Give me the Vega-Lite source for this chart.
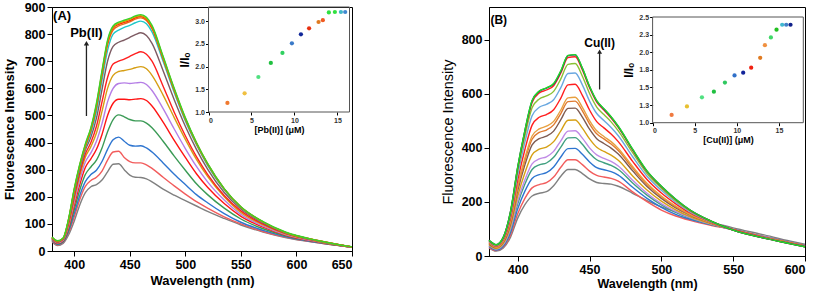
{
"$schema": "https://vega.github.io/schema/vega-lite/v6.json",
"padding": {"left": 2, "top": 0, "right": 0, "bottom": 0},
"background": "white",
"config": {
  "view": {"stroke": "black", "strokeWidth": 1},
  "font": "Liberation Sans",
  "axis": {"grid": false, "labelOverlap": false, "domainColor": "black", "tickColor": "black", "labelColor": "black", "titleColor": "black", "labelFont": "Liberation Sans", "titleFont": "Liberation Sans", "labelFontWeight": "bold", "titleFontWeight": "bold"}
},
"datasets": {
"a": [
{"c":"a01","w":380,"v":35},{"c":"a01","w":385,"v":20},{"c":"a01","w":390,"v":28},{"c":"a01","w":395,"v":60},{"c":"a01","w":400,"v":110},{"c":"a01","w":405,"v":170},{"c":"a01","w":410,"v":215},{"c":"a01","w":415,"v":237},{"c":"a01","w":420,"v":245},{"c":"a01","w":425,"v":262},{"c":"a01","w":430,"v":292},{"c":"a01","w":435,"v":320},{"c":"a01","w":440,"v":322},{"c":"a01","w":445,"v":300},{"c":"a01","w":450,"v":280},{"c":"a01","w":455,"v":272},{"c":"a01","w":460,"v":271},{"c":"a01","w":465,"v":266},{"c":"a01","w":470,"v":255},{"c":"a01","w":480,"v":228},{"c":"a01","w":490,"v":206},{"c":"a01","w":500,"v":186},{"c":"a01","w":510,"v":166},{"c":"a01","w":520,"v":146},{"c":"a01","w":535,"v":120},{"c":"a01","w":550,"v":96},{"c":"a01","w":570,"v":70},{"c":"a01","w":590,"v":50},{"c":"a01","w":620,"v":30},{"c":"a01","w":650,"v":14},
{"c":"a02","w":380,"v":38},{"c":"a02","w":385,"v":22},{"c":"a02","w":390,"v":31},{"c":"a02","w":395,"v":68},{"c":"a02","w":400,"v":125},{"c":"a02","w":405,"v":190},{"c":"a02","w":410,"v":238},{"c":"a02","w":415,"v":260},{"c":"a02","w":420,"v":272},{"c":"a02","w":425,"v":295},{"c":"a02","w":430,"v":335},{"c":"a02","w":435,"v":365},{"c":"a02","w":440,"v":368},{"c":"a02","w":445,"v":345},{"c":"a02","w":450,"v":330},{"c":"a02","w":455,"v":325},{"c":"a02","w":460,"v":325},{"c":"a02","w":465,"v":318},{"c":"a02","w":470,"v":305},{"c":"a02","w":480,"v":272},{"c":"a02","w":490,"v":240},{"c":"a02","w":500,"v":210},{"c":"a02","w":510,"v":182},{"c":"a02","w":520,"v":158},{"c":"a02","w":535,"v":126},{"c":"a02","w":550,"v":100},{"c":"a02","w":570,"v":72},{"c":"a02","w":590,"v":51},{"c":"a02","w":620,"v":30},{"c":"a02","w":650,"v":14},
{"c":"a03","w":380,"v":40},{"c":"a03","w":385,"v":24},{"c":"a03","w":390,"v":33},{"c":"a03","w":395,"v":74},{"c":"a03","w":400,"v":138},{"c":"a03","w":405,"v":205},{"c":"a03","w":410,"v":256},{"c":"a03","w":415,"v":282},{"c":"a03","w":420,"v":298},{"c":"a03","w":425,"v":330},{"c":"a03","w":430,"v":375},{"c":"a03","w":435,"v":410},{"c":"a03","w":440,"v":420},{"c":"a03","w":445,"v":405},{"c":"a03","w":450,"v":390},{"c":"a03","w":455,"v":387},{"c":"a03","w":460,"v":388},{"c":"a03","w":465,"v":380},{"c":"a03","w":470,"v":365},{"c":"a03","w":480,"v":325},{"c":"a03","w":490,"v":283},{"c":"a03","w":500,"v":245},{"c":"a03","w":510,"v":208},{"c":"a03","w":520,"v":178},{"c":"a03","w":535,"v":138},{"c":"a03","w":550,"v":106},{"c":"a03","w":570,"v":76},{"c":"a03","w":590,"v":53},{"c":"a03","w":620,"v":31},{"c":"a03","w":650,"v":14},
{"c":"a04","w":380,"v":42},{"c":"a04","w":385,"v":26},{"c":"a04","w":390,"v":35},{"c":"a04","w":395,"v":80},{"c":"a04","w":400,"v":152},{"c":"a04","w":405,"v":225},{"c":"a04","w":410,"v":282},{"c":"a04","w":415,"v":310},{"c":"a04","w":420,"v":335},{"c":"a04","w":425,"v":380},{"c":"a04","w":430,"v":440},{"c":"a04","w":435,"v":485},{"c":"a04","w":440,"v":502},{"c":"a04","w":445,"v":495},{"c":"a04","w":450,"v":485},{"c":"a04","w":455,"v":480},{"c":"a04","w":460,"v":480},{"c":"a04","w":465,"v":472},{"c":"a04","w":470,"v":455},{"c":"a04","w":480,"v":405},{"c":"a04","w":490,"v":350},{"c":"a04","w":500,"v":298},{"c":"a04","w":510,"v":248},{"c":"a04","w":520,"v":208},{"c":"a04","w":535,"v":158},{"c":"a04","w":550,"v":118},{"c":"a04","w":570,"v":82},{"c":"a04","w":590,"v":56},{"c":"a04","w":620,"v":32},{"c":"a04","w":650,"v":14},
{"c":"a05","w":380,"v":44},{"c":"a05","w":385,"v":28},{"c":"a05","w":390,"v":38},{"c":"a05","w":395,"v":88},{"c":"a05","w":400,"v":168},{"c":"a05","w":405,"v":245},{"c":"a05","w":410,"v":308},{"c":"a05","w":415,"v":340},{"c":"a05","w":420,"v":375},{"c":"a05","w":425,"v":430},{"c":"a05","w":430,"v":500},{"c":"a05","w":435,"v":545},{"c":"a05","w":440,"v":560},{"c":"a05","w":445,"v":560},{"c":"a05","w":450,"v":558},{"c":"a05","w":455,"v":560},{"c":"a05","w":460,"v":562},{"c":"a05","w":465,"v":555},{"c":"a05","w":470,"v":535},{"c":"a05","w":480,"v":475},{"c":"a05","w":490,"v":408},{"c":"a05","w":500,"v":345},{"c":"a05","w":510,"v":285},{"c":"a05","w":520,"v":235},{"c":"a05","w":535,"v":175},{"c":"a05","w":550,"v":128},{"c":"a05","w":570,"v":88},{"c":"a05","w":590,"v":59},{"c":"a05","w":620,"v":33},{"c":"a05","w":650,"v":14},
{"c":"a06","w":380,"v":45},{"c":"a06","w":385,"v":30},{"c":"a06","w":390,"v":40},{"c":"a06","w":395,"v":94},{"c":"a06","w":400,"v":180},{"c":"a06","w":405,"v":262},{"c":"a06","w":410,"v":328},{"c":"a06","w":415,"v":362},{"c":"a06","w":420,"v":405},{"c":"a06","w":425,"v":470},{"c":"a06","w":430,"v":550},{"c":"a06","w":435,"v":600},{"c":"a06","w":440,"v":618},{"c":"a06","w":445,"v":620},{"c":"a06","w":450,"v":618},{"c":"a06","w":455,"v":620},{"c":"a06","w":460,"v":622},{"c":"a06","w":465,"v":614},{"c":"a06","w":470,"v":592},{"c":"a06","w":480,"v":525},{"c":"a06","w":490,"v":450},{"c":"a06","w":500,"v":378},{"c":"a06","w":510,"v":312},{"c":"a06","w":520,"v":255},{"c":"a06","w":535,"v":188},{"c":"a06","w":550,"v":135},{"c":"a06","w":570,"v":92},{"c":"a06","w":590,"v":61},{"c":"a06","w":620,"v":34},{"c":"a06","w":650,"v":15},
{"c":"a07","w":380,"v":46},{"c":"a07","w":385,"v":32},{"c":"a07","w":390,"v":42},{"c":"a07","w":395,"v":100},{"c":"a07","w":400,"v":192},{"c":"a07","w":405,"v":278},{"c":"a07","w":410,"v":346},{"c":"a07","w":415,"v":385},{"c":"a07","w":420,"v":435},{"c":"a07","w":425,"v":515},{"c":"a07","w":430,"v":600},{"c":"a07","w":435,"v":648},{"c":"a07","w":440,"v":662},{"c":"a07","w":445,"v":666},{"c":"a07","w":450,"v":670},{"c":"a07","w":455,"v":676},{"c":"a07","w":460,"v":680},{"c":"a07","w":465,"v":672},{"c":"a07","w":470,"v":648},{"c":"a07","w":480,"v":575},{"c":"a07","w":490,"v":492},{"c":"a07","w":500,"v":412},{"c":"a07","w":510,"v":338},{"c":"a07","w":520,"v":275},{"c":"a07","w":535,"v":200},{"c":"a07","w":550,"v":142},{"c":"a07","w":570,"v":96},{"c":"a07","w":590,"v":63},{"c":"a07","w":620,"v":35},{"c":"a07","w":650,"v":15},
{"c":"a08","w":380,"v":47},{"c":"a08","w":385,"v":33},{"c":"a08","w":390,"v":43},{"c":"a08","w":395,"v":104},{"c":"a08","w":400,"v":200},{"c":"a08","w":405,"v":288},{"c":"a08","w":410,"v":358},{"c":"a08","w":415,"v":400},{"c":"a08","w":420,"v":460},{"c":"a08","w":425,"v":550},{"c":"a08","w":430,"v":640},{"c":"a08","w":435,"v":690},{"c":"a08","w":440,"v":700},{"c":"a08","w":445,"v":708},{"c":"a08","w":450,"v":718},{"c":"a08","w":455,"v":728},{"c":"a08","w":460,"v":735},{"c":"a08","w":465,"v":726},{"c":"a08","w":470,"v":700},{"c":"a08","w":480,"v":608},{"c":"a08","w":490,"v":512},{"c":"a08","w":500,"v":425},{"c":"a08","w":510,"v":348},{"c":"a08","w":520,"v":283},{"c":"a08","w":535,"v":205},{"c":"a08","w":550,"v":148},{"c":"a08","w":570,"v":99},{"c":"a08","w":590,"v":65},{"c":"a08","w":620,"v":36},{"c":"a08","w":650,"v":15},
{"c":"a09","w":380,"v":48},{"c":"a09","w":385,"v":34},{"c":"a09","w":390,"v":44},{"c":"a09","w":395,"v":110},{"c":"a09","w":400,"v":210},{"c":"a09","w":405,"v":300},{"c":"a09","w":410,"v":372},{"c":"a09","w":415,"v":420},{"c":"a09","w":420,"v":490},{"c":"a09","w":425,"v":595},{"c":"a09","w":430,"v":700},{"c":"a09","w":435,"v":755},{"c":"a09","w":440,"v":770},{"c":"a09","w":445,"v":778},{"c":"a09","w":450,"v":788},{"c":"a09","w":455,"v":798},{"c":"a09","w":460,"v":805},{"c":"a09","w":465,"v":795},{"c":"a09","w":470,"v":766},{"c":"a09","w":480,"v":665},{"c":"a09","w":490,"v":558},{"c":"a09","w":500,"v":460},{"c":"a09","w":510,"v":375},{"c":"a09","w":520,"v":302},{"c":"a09","w":535,"v":216},{"c":"a09","w":550,"v":155},{"c":"a09","w":570,"v":103},{"c":"a09","w":590,"v":67},{"c":"a09","w":620,"v":37},{"c":"a09","w":650,"v":15},
{"c":"a10","w":380,"v":49},{"c":"a10","w":385,"v":35},{"c":"a10","w":390,"v":45},{"c":"a10","w":395,"v":114},{"c":"a10","w":400,"v":218},{"c":"a10","w":405,"v":308},{"c":"a10","w":410,"v":380},{"c":"a10","w":415,"v":435},{"c":"a10","w":420,"v":515},{"c":"a10","w":425,"v":630},{"c":"a10","w":430,"v":740},{"c":"a10","w":435,"v":800},{"c":"a10","w":440,"v":815},{"c":"a10","w":445,"v":825},{"c":"a10","w":450,"v":832},{"c":"a10","w":455,"v":842},{"c":"a10","w":460,"v":848},{"c":"a10","w":465,"v":838},{"c":"a10","w":470,"v":808},{"c":"a10","w":480,"v":700},{"c":"a10","w":490,"v":585},{"c":"a10","w":500,"v":480},{"c":"a10","w":510,"v":392},{"c":"a10","w":520,"v":316},{"c":"a10","w":535,"v":226},{"c":"a10","w":550,"v":160},{"c":"a10","w":570,"v":106},{"c":"a10","w":590,"v":68},{"c":"a10","w":620,"v":37},{"c":"a10","w":650,"v":15},
{"c":"a11","w":380,"v":50},{"c":"a11","w":385,"v":36},{"c":"a11","w":390,"v":46},{"c":"a11","w":395,"v":116},{"c":"a11","w":400,"v":222},{"c":"a11","w":405,"v":313},{"c":"a11","w":410,"v":385},{"c":"a11","w":415,"v":445},{"c":"a11","w":420,"v":530},{"c":"a11","w":425,"v":648},{"c":"a11","w":430,"v":760},{"c":"a11","w":435,"v":815},{"c":"a11","w":440,"v":830},{"c":"a11","w":445,"v":838},{"c":"a11","w":450,"v":845},{"c":"a11","w":455,"v":855},{"c":"a11","w":460,"v":860},{"c":"a11","w":465,"v":850},{"c":"a11","w":470,"v":820},{"c":"a11","w":480,"v":708},{"c":"a11","w":490,"v":592},{"c":"a11","w":500,"v":486},{"c":"a11","w":510,"v":396},{"c":"a11","w":520,"v":320},{"c":"a11","w":535,"v":228},{"c":"a11","w":550,"v":161},{"c":"a11","w":570,"v":107},{"c":"a11","w":590,"v":69},{"c":"a11","w":620,"v":38},{"c":"a11","w":650,"v":15},
{"c":"a12","w":380,"v":50},{"c":"a12","w":385,"v":36},{"c":"a12","w":390,"v":46},{"c":"a12","w":395,"v":117},{"c":"a12","w":400,"v":225},{"c":"a12","w":405,"v":315},{"c":"a12","w":410,"v":388},{"c":"a12","w":415,"v":448},{"c":"a12","w":420,"v":535},{"c":"a12","w":425,"v":655},{"c":"a12","w":430,"v":768},{"c":"a12","w":435,"v":822},{"c":"a12","w":440,"v":836},{"c":"a12","w":445,"v":843},{"c":"a12","w":450,"v":850},{"c":"a12","w":455,"v":860},{"c":"a12","w":460,"v":865},{"c":"a12","w":465,"v":855},{"c":"a12","w":470,"v":825},{"c":"a12","w":480,"v":712},{"c":"a12","w":490,"v":595},{"c":"a12","w":500,"v":488},{"c":"a12","w":510,"v":398},{"c":"a12","w":520,"v":321},{"c":"a12","w":535,"v":229},{"c":"a12","w":550,"v":162},{"c":"a12","w":570,"v":107},{"c":"a12","w":590,"v":69},{"c":"a12","w":620,"v":38},{"c":"a12","w":650,"v":15},
{"c":"a13","w":380,"v":51},{"c":"a13","w":385,"v":37},{"c":"a13","w":390,"v":47},{"c":"a13","w":395,"v":118},{"c":"a13","w":400,"v":227},{"c":"a13","w":405,"v":318},{"c":"a13","w":410,"v":391},{"c":"a13","w":415,"v":452},{"c":"a13","w":420,"v":540},{"c":"a13","w":425,"v":660},{"c":"a13","w":430,"v":773},{"c":"a13","w":435,"v":826},{"c":"a13","w":440,"v":840},{"c":"a13","w":445,"v":847},{"c":"a13","w":450,"v":854},{"c":"a13","w":455,"v":864},{"c":"a13","w":460,"v":868},{"c":"a13","w":465,"v":858},{"c":"a13","w":470,"v":828},{"c":"a13","w":480,"v":715},{"c":"a13","w":490,"v":597},{"c":"a13","w":500,"v":490},{"c":"a13","w":510,"v":399},{"c":"a13","w":520,"v":322},{"c":"a13","w":535,"v":229},{"c":"a13","w":550,"v":162},{"c":"a13","w":570,"v":107},{"c":"a13","w":590,"v":69},{"c":"a13","w":620,"v":38},{"c":"a13","w":650,"v":15},
{"c":"a14","w":380,"v":52},{"c":"a14","w":385,"v":38},{"c":"a14","w":390,"v":48},{"c":"a14","w":395,"v":120},{"c":"a14","w":400,"v":230},{"c":"a14","w":405,"v":320},{"c":"a14","w":410,"v":395},{"c":"a14","w":415,"v":455},{"c":"a14","w":420,"v":545},{"c":"a14","w":425,"v":665},{"c":"a14","w":430,"v":778},{"c":"a14","w":435,"v":830},{"c":"a14","w":440,"v":844},{"c":"a14","w":445,"v":851},{"c":"a14","w":450,"v":858},{"c":"a14","w":455,"v":867},{"c":"a14","w":460,"v":872},{"c":"a14","w":465,"v":862},{"c":"a14","w":470,"v":832},{"c":"a14","w":480,"v":718},{"c":"a14","w":490,"v":600},{"c":"a14","w":500,"v":492},{"c":"a14","w":510,"v":400},{"c":"a14","w":520,"v":323},{"c":"a14","w":535,"v":230},{"c":"a14","w":550,"v":163},{"c":"a14","w":570,"v":108},{"c":"a14","w":590,"v":70},{"c":"a14","w":620,"v":38},{"c":"a14","w":650,"v":15}
],
"b": [
{"c":"b01","w":380,"v":30},{"c":"b01","w":385,"v":18},{"c":"b01","w":390,"v":30},{"c":"b01","w":395,"v":70},{"c":"b01","w":400,"v":140},{"c":"b01","w":405,"v":190},{"c":"b01","w":410,"v":222},{"c":"b01","w":415,"v":232},{"c":"b01","w":420,"v":238},{"c":"b01","w":425,"v":260},{"c":"b01","w":430,"v":295},{"c":"b01","w":435,"v":320},{"c":"b01","w":440,"v":320},{"c":"b01","w":445,"v":305},{"c":"b01","w":450,"v":285},{"c":"b01","w":455,"v":272},{"c":"b01","w":460,"v":268},{"c":"b01","w":465,"v":266},{"c":"b01","w":470,"v":258},{"c":"b01","w":480,"v":232},{"c":"b01","w":490,"v":205},{"c":"b01","w":500,"v":182},{"c":"b01","w":510,"v":163},{"c":"b01","w":520,"v":145},{"c":"b01","w":535,"v":124},{"c":"b01","w":550,"v":104},{"c":"b01","w":570,"v":80},{"c":"b01","w":590,"v":55},{"c":"b01","w":600,"v":44},
{"c":"b02","w":380,"v":32},{"c":"b02","w":385,"v":20},{"c":"b02","w":390,"v":33},{"c":"b02","w":395,"v":78},{"c":"b02","w":400,"v":156},{"c":"b02","w":405,"v":213},{"c":"b02","w":410,"v":252},{"c":"b02","w":415,"v":264},{"c":"b02","w":420,"v":271},{"c":"b02","w":425,"v":292},{"c":"b02","w":430,"v":328},{"c":"b02","w":435,"v":356},{"c":"b02","w":440,"v":356},{"c":"b02","w":445,"v":338},{"c":"b02","w":450,"v":314},{"c":"b02","w":455,"v":298},{"c":"b02","w":460,"v":292},{"c":"b02","w":465,"v":287},{"c":"b02","w":470,"v":277},{"c":"b02","w":480,"v":237},{"c":"b02","w":490,"v":201},{"c":"b02","w":500,"v":170},{"c":"b02","w":510,"v":148},{"c":"b02","w":520,"v":132},{"c":"b02","w":535,"v":113},{"c":"b02","w":550,"v":98},{"c":"b02","w":570,"v":74},{"c":"b02","w":590,"v":51},{"c":"b02","w":600,"v":40},
{"c":"b03","w":380,"v":35},{"c":"b03","w":385,"v":22},{"c":"b03","w":390,"v":37},{"c":"b03","w":395,"v":87},{"c":"b03","w":400,"v":175},{"c":"b03","w":405,"v":240},{"c":"b03","w":410,"v":287},{"c":"b03","w":415,"v":301},{"c":"b03","w":420,"v":308},{"c":"b03","w":425,"v":329},{"c":"b03","w":430,"v":366},{"c":"b03","w":435,"v":397},{"c":"b03","w":440,"v":398},{"c":"b03","w":445,"v":376},{"c":"b03","w":450,"v":348},{"c":"b03","w":455,"v":327},{"c":"b03","w":460,"v":319},{"c":"b03","w":465,"v":312},{"c":"b03","w":470,"v":299},{"c":"b03","w":480,"v":254},{"c":"b03","w":490,"v":213},{"c":"b03","w":500,"v":180},{"c":"b03","w":510,"v":154},{"c":"b03","w":520,"v":136},{"c":"b03","w":535,"v":115},{"c":"b03","w":550,"v":98},{"c":"b03","w":570,"v":73},{"c":"b03","w":590,"v":51},{"c":"b03","w":600,"v":39},
{"c":"b04","w":380,"v":38},{"c":"b04","w":385,"v":25},{"c":"b04","w":390,"v":41},{"c":"b04","w":395,"v":96},{"c":"b04","w":400,"v":193},{"c":"b04","w":405,"v":266},{"c":"b04","w":410,"v":320},{"c":"b04","w":415,"v":337},{"c":"b04","w":420,"v":344},{"c":"b04","w":425,"v":365},{"c":"b04","w":430,"v":403},{"c":"b04","w":435,"v":437},{"c":"b04","w":440,"v":438},{"c":"b04","w":445,"v":413},{"c":"b04","w":450,"v":380},{"c":"b04","w":455,"v":356},{"c":"b04","w":460,"v":345},{"c":"b04","w":465,"v":335},{"c":"b04","w":470,"v":320},{"c":"b04","w":480,"v":270},{"c":"b04","w":490,"v":225},{"c":"b04","w":500,"v":189},{"c":"b04","w":510,"v":161},{"c":"b04","w":520,"v":140},{"c":"b04","w":535,"v":116},{"c":"b04","w":550,"v":97},{"c":"b04","w":570,"v":72},{"c":"b04","w":590,"v":50},{"c":"b04","w":600,"v":38},
{"c":"b05","w":380,"v":39},{"c":"b05","w":385,"v":26},{"c":"b05","w":390,"v":43},{"c":"b05","w":395,"v":102},{"c":"b05","w":400,"v":204},{"c":"b05","w":405,"v":282},{"c":"b05","w":410,"v":341},{"c":"b05","w":415,"v":359},{"c":"b05","w":420,"v":367},{"c":"b05","w":425,"v":387},{"c":"b05","w":430,"v":426},{"c":"b05","w":435,"v":462},{"c":"b05","w":440,"v":463},{"c":"b05","w":445,"v":436},{"c":"b05","w":450,"v":400},{"c":"b05","w":455,"v":374},{"c":"b05","w":460,"v":361},{"c":"b05","w":465,"v":350},{"c":"b05","w":470,"v":333},{"c":"b05","w":480,"v":280},{"c":"b05","w":490,"v":232},{"c":"b05","w":500,"v":194},{"c":"b05","w":510,"v":165},{"c":"b05","w":520,"v":142},{"c":"b05","w":535,"v":117},{"c":"b05","w":550,"v":97},{"c":"b05","w":570,"v":72},{"c":"b05","w":590,"v":50},{"c":"b05","w":600,"v":38},
{"c":"b06","w":380,"v":42},{"c":"b06","w":385,"v":28},{"c":"b06","w":390,"v":47},{"c":"b06","w":395,"v":111},{"c":"b06","w":400,"v":222},{"c":"b06","w":405,"v":308},{"c":"b06","w":410,"v":374},{"c":"b06","w":415,"v":395},{"c":"b06","w":420,"v":403},{"c":"b06","w":425,"v":423},{"c":"b06","w":430,"v":463},{"c":"b06","w":435,"v":502},{"c":"b06","w":440,"v":503},{"c":"b06","w":445,"v":473},{"c":"b06","w":450,"v":433},{"c":"b06","w":455,"v":402},{"c":"b06","w":460,"v":387},{"c":"b06","w":465,"v":373},{"c":"b06","w":470,"v":354},{"c":"b06","w":480,"v":296},{"c":"b06","w":490,"v":244},{"c":"b06","w":500,"v":203},{"c":"b06","w":510,"v":171},{"c":"b06","w":520,"v":146},{"c":"b06","w":535,"v":119},{"c":"b06","w":550,"v":97},{"c":"b06","w":570,"v":71},{"c":"b06","w":590,"v":49},{"c":"b06","w":600,"v":37},
{"c":"b07","w":380,"v":45},{"c":"b07","w":385,"v":31},{"c":"b07","w":390,"v":51},{"c":"b07","w":395,"v":121},{"c":"b07","w":400,"v":242},{"c":"b07","w":405,"v":337},{"c":"b07","w":410,"v":411},{"c":"b07","w":415,"v":434},{"c":"b07","w":420,"v":443},{"c":"b07","w":425,"v":462},{"c":"b07","w":430,"v":504},{"c":"b07","w":435,"v":546},{"c":"b07","w":440,"v":547},{"c":"b07","w":445,"v":514},{"c":"b07","w":450,"v":469},{"c":"b07","w":455,"v":434},{"c":"b07","w":460,"v":416},{"c":"b07","w":465,"v":399},{"c":"b07","w":470,"v":377},{"c":"b07","w":480,"v":315},{"c":"b07","w":490,"v":257},{"c":"b07","w":500,"v":213},{"c":"b07","w":510,"v":178},{"c":"b07","w":520,"v":151},{"c":"b07","w":535,"v":121},{"c":"b07","w":550,"v":97},{"c":"b07","w":570,"v":71},{"c":"b07","w":590,"v":48},{"c":"b07","w":600,"v":37},
{"c":"b08","w":380,"v":47},{"c":"b08","w":385,"v":32},{"c":"b08","w":390,"v":54},{"c":"b08","w":395,"v":126},{"c":"b08","w":400,"v":253},{"c":"b08","w":405,"v":353},{"c":"b08","w":410,"v":432},{"c":"b08","w":415,"v":457},{"c":"b08","w":420,"v":466},{"c":"b08","w":425,"v":485},{"c":"b08","w":430,"v":527},{"c":"b08","w":435,"v":571},{"c":"b08","w":440,"v":573},{"c":"b08","w":445,"v":537},{"c":"b08","w":450,"v":489},{"c":"b08","w":455,"v":452},{"c":"b08","w":460,"v":433},{"c":"b08","w":465,"v":414},{"c":"b08","w":470,"v":390},{"c":"b08","w":480,"v":325},{"c":"b08","w":490,"v":264},{"c":"b08","w":500,"v":219},{"c":"b08","w":510,"v":182},{"c":"b08","w":520,"v":153},{"c":"b08","w":535,"v":122},{"c":"b08","w":550,"v":97},{"c":"b08","w":570,"v":70},{"c":"b08","w":590,"v":48},{"c":"b08","w":600,"v":36},
{"c":"b09","w":380,"v":48},{"c":"b09","w":385,"v":33},{"c":"b09","w":390,"v":55},{"c":"b09","w":395,"v":130},{"c":"b09","w":400,"v":260},{"c":"b09","w":405,"v":363},{"c":"b09","w":410,"v":444},{"c":"b09","w":415,"v":470},{"c":"b09","w":420,"v":480},{"c":"b09","w":425,"v":498},{"c":"b09","w":430,"v":540},{"c":"b09","w":435,"v":585},{"c":"b09","w":440,"v":587},{"c":"b09","w":445,"v":550},{"c":"b09","w":450,"v":501},{"c":"b09","w":455,"v":463},{"c":"b09","w":460,"v":442},{"c":"b09","w":465,"v":423},{"c":"b09","w":470,"v":398},{"c":"b09","w":480,"v":331},{"c":"b09","w":490,"v":269},{"c":"b09","w":500,"v":222},{"c":"b09","w":510,"v":185},{"c":"b09","w":520,"v":154},{"c":"b09","w":535,"v":122},{"c":"b09","w":550,"v":97},{"c":"b09","w":570,"v":70},{"c":"b09","w":590,"v":48},{"c":"b09","w":600,"v":36},
{"c":"b10","w":380,"v":51},{"c":"b10","w":385,"v":36},{"c":"b10","w":390,"v":60},{"c":"b10","w":395,"v":141},{"c":"b10","w":400,"v":281},{"c":"b10","w":405,"v":394},{"c":"b10","w":410,"v":484},{"c":"b10","w":415,"v":513},{"c":"b10","w":420,"v":523},{"c":"b10","w":425,"v":541},{"c":"b10","w":430,"v":584},{"c":"b10","w":435,"v":633},{"c":"b10","w":440,"v":635},{"c":"b10","w":445,"v":594},{"c":"b10","w":450,"v":540},{"c":"b10","w":455,"v":497},{"c":"b10","w":460,"v":474},{"c":"b10","w":465,"v":451},{"c":"b10","w":470,"v":423},{"c":"b10","w":480,"v":350},{"c":"b10","w":490,"v":283},{"c":"b10","w":500,"v":233},{"c":"b10","w":510,"v":193},{"c":"b10","w":520,"v":159},{"c":"b10","w":535,"v":124},{"c":"b10","w":550,"v":97},{"c":"b10","w":570,"v":70},{"c":"b10","w":590,"v":47},{"c":"b10","w":600,"v":36},
{"c":"b11","w":380,"v":54},{"c":"b11","w":385,"v":38},{"c":"b11","w":390,"v":64},{"c":"b11","w":395,"v":150},{"c":"b11","w":400,"v":300},{"c":"b11","w":405,"v":421},{"c":"b11","w":410,"v":519},{"c":"b11","w":415,"v":550},{"c":"b11","w":420,"v":561},{"c":"b11","w":425,"v":578},{"c":"b11","w":430,"v":623},{"c":"b11","w":435,"v":675},{"c":"b11","w":440,"v":677},{"c":"b11","w":445,"v":633},{"c":"b11","w":450,"v":573},{"c":"b11","w":455,"v":527},{"c":"b11","w":460,"v":501},{"c":"b11","w":465,"v":475},{"c":"b11","w":470,"v":445},{"c":"b11","w":480,"v":367},{"c":"b11","w":490,"v":295},{"c":"b11","w":500,"v":243},{"c":"b11","w":510,"v":199},{"c":"b11","w":520,"v":163},{"c":"b11","w":535,"v":125},{"c":"b11","w":550,"v":96},{"c":"b11","w":570,"v":69},{"c":"b11","w":590,"v":46},{"c":"b11","w":600,"v":35},
{"c":"b12","w":380,"v":56},{"c":"b12","w":385,"v":40},{"c":"b12","w":390,"v":67},{"c":"b12","w":395,"v":158},{"c":"b12","w":400,"v":315},{"c":"b12","w":405,"v":444},{"c":"b12","w":410,"v":548},{"c":"b12","w":415,"v":581},{"c":"b12","w":420,"v":592},{"c":"b12","w":425,"v":609},{"c":"b12","w":430,"v":655},{"c":"b12","w":435,"v":709},{"c":"b12","w":440,"v":712},{"c":"b12","w":445,"v":665},{"c":"b12","w":450,"v":601},{"c":"b12","w":455,"v":551},{"c":"b12","w":460,"v":523},{"c":"b12","w":465,"v":496},{"c":"b12","w":470,"v":463},{"c":"b12","w":480,"v":382},{"c":"b12","w":490,"v":305},{"c":"b12","w":500,"v":251},{"c":"b12","w":510,"v":205},{"c":"b12","w":520,"v":167},{"c":"b12","w":535,"v":127},{"c":"b12","w":550,"v":96},{"c":"b12","w":570,"v":68},{"c":"b12","w":590,"v":46},{"c":"b12","w":600,"v":34},
{"c":"b13","w":380,"v":57},{"c":"b13","w":385,"v":41},{"c":"b13","w":390,"v":69},{"c":"b13","w":395,"v":163},{"c":"b13","w":400,"v":326},{"c":"b13","w":405,"v":460},{"c":"b13","w":410,"v":568},{"c":"b13","w":415,"v":603},{"c":"b13","w":420,"v":614},{"c":"b13","w":425,"v":630},{"c":"b13","w":430,"v":677},{"c":"b13","w":435,"v":734},{"c":"b13","w":440,"v":737},{"c":"b13","w":445,"v":688},{"c":"b13","w":450,"v":622},{"c":"b13","w":455,"v":569},{"c":"b13","w":460,"v":540},{"c":"b13","w":465,"v":510},{"c":"b13","w":470,"v":476},{"c":"b13","w":480,"v":392},{"c":"b13","w":490,"v":313},{"c":"b13","w":500,"v":256},{"c":"b13","w":510,"v":209},{"c":"b13","w":520,"v":169},{"c":"b13","w":535,"v":128},{"c":"b13","w":550,"v":96},{"c":"b13","w":570,"v":68},{"c":"b13","w":590,"v":45},{"c":"b13","w":600,"v":34},
{"c":"b14","w":380,"v":58},{"c":"b14","w":385,"v":42},{"c":"b14","w":390,"v":70},{"c":"b14","w":395,"v":165},{"c":"b14","w":400,"v":329},{"c":"b14","w":405,"v":464},{"c":"b14","w":410,"v":574},{"c":"b14","w":415,"v":609},{"c":"b14","w":420,"v":621},{"c":"b14","w":425,"v":636},{"c":"b14","w":430,"v":683},{"c":"b14","w":435,"v":741},{"c":"b14","w":440,"v":744},{"c":"b14","w":445,"v":694},{"c":"b14","w":450,"v":627},{"c":"b14","w":455,"v":574},{"c":"b14","w":460,"v":544},{"c":"b14","w":465,"v":514},{"c":"b14","w":470,"v":479},{"c":"b14","w":480,"v":394},{"c":"b14","w":490,"v":314},{"c":"b14","w":500,"v":258},{"c":"b14","w":510,"v":210},{"c":"b14","w":520,"v":170},{"c":"b14","w":535,"v":128},{"c":"b14","w":550,"v":96},{"c":"b14","w":570,"v":68},{"c":"b14","w":590,"v":45},{"c":"b14","w":600,"v":34},
{"c":"b15","w":380,"v":58},{"c":"b15","w":385,"v":42},{"c":"b15","w":390,"v":70},{"c":"b15","w":395,"v":165},{"c":"b15","w":400,"v":330},{"c":"b15","w":405,"v":465},{"c":"b15","w":410,"v":575},{"c":"b15","w":415,"v":610},{"c":"b15","w":420,"v":622},{"c":"b15","w":425,"v":638},{"c":"b15","w":430,"v":685},{"c":"b15","w":435,"v":742},{"c":"b15","w":440,"v":745},{"c":"b15","w":445,"v":695},{"c":"b15","w":450,"v":628},{"c":"b15","w":455,"v":575},{"c":"b15","w":460,"v":545},{"c":"b15","w":465,"v":515},{"c":"b15","w":470,"v":480},{"c":"b15","w":480,"v":395},{"c":"b15","w":490,"v":315},{"c":"b15","w":500,"v":258},{"c":"b15","w":510,"v":210},{"c":"b15","w":520,"v":170},{"c":"b15","w":535,"v":128},{"c":"b15","w":550,"v":96},{"c":"b15","w":570,"v":68},{"c":"b15","w":590,"v":45},{"c":"b15","w":600,"v":34}
],
"ai": [
{"p":"pa01","x":2.2,"y":1.2},{"p":"pa02","x":4.2,"y":1.41},{"p":"pa03","x":5.8,"y":1.77},{"p":"pa04","x":7.25,"y":2.08},{"p":"pa05","x":8.6,"y":2.3},{"p":"pa06","x":9.7,"y":2.51},{"p":"pa07","x":10.75,"y":2.71},{"p":"pa08","x":11.7,"y":2.84},{"p":"pa09","x":12.8,"y":2.98},{"p":"pa10","x":13.3,"y":3.02},{"p":"pa11","x":14.0,"y":3.19},{"p":"pa12","x":14.7,"y":3.2},{"p":"pa13","x":15.4,"y":3.2},{"p":"pa14","x":15.9,"y":3.2}
],
"bi": [
{"p":"pb01","x":2.26,"y":1.11},{"p":"pb02","x":4.08,"y":1.23},{"p":"pb03","x":5.86,"y":1.36},{"p":"pb04","x":7.28,"y":1.44},{"p":"pb05","x":8.59,"y":1.57},{"p":"pb06","x":9.73,"y":1.67},{"p":"pb07","x":10.76,"y":1.71},{"p":"pb08","x":11.71,"y":1.78},{"p":"pb09","x":12.78,"y":1.92},{"p":"pb10","x":13.34,"y":2.1},{"p":"pb11","x":14.05,"y":2.21},{"p":"pb12","x":14.72,"y":2.32},{"p":"pb13","x":15.39,"y":2.39},{"p":"pb14","x":15.87,"y":2.39},{"p":"pb15","x":16.38,"y":2.39}
]
},
"spacing": 83,
"hconcat": [
{
 "width": 300, "height": 244,
 "layer": [
  {"layer": [
   {"data": {"values": [{}]}, "mark": {"type": "text", "text": ""},
    "encoding": {
     "x": {"datum": 400, "type": "quantitative", "scale": {"domain": [380, 650], "nice": false, "zero": false}, "axis": {"orient": "bottom", "values": [400,425,450,475,500,525,550,575,600,625,650], "labels": false, "domain": false, "tickSize": 3, "title": null}},
     "y": {"datum": 0, "type": "quantitative", "scale": {"domain": [0, 900], "nice": false, "zero": false}, "axis": {"orient": "left", "values": [0,50,100,150,200,250,300,350,400,450,500,550,600,650,700,750,800,850,900], "labels": false, "domain": false, "tickSize": 3, "title": null}}
    }},
   {"data": {"values": [{}]}, "mark": {"type": "text", "text": "(A)", "align": "left", "baseline": "middle", "fontSize": 13, "fontWeight": "bold", "color": "black"}, "encoding": {"x": {"datum": 381}, "y": {"datum": 866}}},
   {"data": {"values": [{}]}, "mark": {"type": "text", "text": "Pb(II)", "align": "center", "baseline": "middle", "fontSize": 13, "fontWeight": "bold", "color": "black"}, "encoding": {"x": {"datum": 411}, "y": {"datum": 803}}},
   {"data": {"values": [{}]}, "mark": {"type": "rule", "strokeWidth": 1.3, "color": "#222"}, "encoding": {"x": {"datum": 411}, "y": {"datum": 498}, "y2": {"datum": 762}}},
   {"data": {"values": [{}]}, "mark": {"type": "point", "shape": "triangle-up", "filled": true, "size": 28, "color": "#222", "opacity": 1}, "encoding": {"x": {"datum": 411}, "y": {"datum": 766}}}
  ]},
  {"data": {"name": "a"}, "mark": {"type": "line", "strokeWidth": 1.4, "interpolate": "monotone"},
   "encoding": {
    "x": {"field": "w", "type": "quantitative", "scale": {"domain": [380, 650], "nice": false, "zero": false},
      "axis": {"orient": "bottom", "title": "Wavelength (nm)", "labelOverlap": false, "values": [400,450,500,550,600,650], "tickSize": 5, "labelFontSize": 12.5, "titleFontSize": 13, "labelPadding": 2, "titlePadding": 4}},
    "y": {"field": "v", "type": "quantitative", "scale": {"domain": [0, 900], "nice": false},
      "axis": {"orient": "left", "title": "Fluorescence Intensity", "labelOverlap": false, "values": [0,100,200,300,400,500,600,700,800,900], "tickSize": 5, "labelFontSize": 12.5, "titleFontSize": 13, "labelPadding": 2, "titlePadding": 8}},
    "color": {"field": "c", "type": "nominal", "legend": null, "scale": {"domain": ["a01","a02","a03","a04","a05","a06","a07","a08","a09","a10","a11","a12","a13","a14","b01","b02","b03","b04","b05","b06","b07","b08","b09","b10","b11","b12","b13","b14","b15","pa01","pa02","pa03","pa04","pa05","pa06","pa07","pa08","pa09","pa10","pa11","pa12","pa13","pa14","pb01","pb02","pb03","pb04","pb05","pb06","pb07","pb08","pb09","pb10","pb11","pb12","pb13","pb14","pb15"], "range": ["#808080","#f25c5c","#2e75d0","#3a9a55","#ff1414","#b57ee6","#d69e14","#ff1e1e","#7d5a62","#1ec8c8","#e8701a","#ff2a00","#d4a000","#39d22a","#808080","#f25c5c","#2e75d0","#40a080","#c08ae6","#d6a014","#7d5a50","#e07a30","#e8a040","#ff1e1e","#6aa8e0","#8ac034","#ff2020","#1a2a8a","#22dd22","#f07a30","#f0c040","#50e080","#20c040","#30d060","#3a7ac8","#12289a","#e83010","#e07a20","#f05a20","#30e040","#30e040","#40b8c8","#4088d0","#f07a40","#e8c030","#50e080","#20c040","#30c860","#3070c8","#12249a","#f02010","#e07a20","#f09040","#40d868","#22c020","#40b8d0","#4080c8","#10208a"]}}
   }},
  {"layer": [
   {"data": {"values": [{}]}, "mark": {"type": "rect", "fillOpacity": 0, "stroke": "#555", "strokeWidth": 1}, "encoding": {"x": {"datum": 0, "type": "quantitative"}, "x2": {"datum": 16.4}, "y": {"datum": 1, "type": "quantitative"}, "y2": {"datum": 3.31}}},
   {"data": {"name": "ai"}, "mark": {"type": "point", "filled": true, "size": 18, "opacity": 1},
    "encoding": {
     "x": {"field": "x", "type": "quantitative", "scale": {"domain": [0, 16.4], "range": [156.5, 297.5], "nice": false, "zero": false},
       "axis": {"orient": "bottom", "offset": -139, "title": "[Pb(II)] (μM)", "values": [0,5,10,15], "domain": false, "tickSize": 3, "labelFontSize": 7, "titleFontSize": 9, "labelPadding": 1, "titlePadding": 2, "labelColor": "#333"}},
     "y": {"field": "y", "type": "quantitative", "scale": {"domain": [1, 3.31], "range": [105, 0], "nice": false, "zero": false},
       "axis": {"orient": "left", "offset": -156.5, "title": "I/Iₒ", "values": [1,1.5,2,2.5,3], "format": ".1f", "domain": false, "tickSize": 3, "labelFontSize": 7, "titleFontSize": 12, "labelPadding": 1, "titlePadding": 3, "labelColor": "#333"}},
     "color": {"field": "p", "type": "nominal", "legend": null, "scale": {"domain": ["a01","a02","a03","a04","a05","a06","a07","a08","a09","a10","a11","a12","a13","a14","b01","b02","b03","b04","b05","b06","b07","b08","b09","b10","b11","b12","b13","b14","b15","pa01","pa02","pa03","pa04","pa05","pa06","pa07","pa08","pa09","pa10","pa11","pa12","pa13","pa14","pb01","pb02","pb03","pb04","pb05","pb06","pb07","pb08","pb09","pb10","pb11","pb12","pb13","pb14","pb15"], "range": ["#808080","#f25c5c","#2e75d0","#3a9a55","#ff1414","#b57ee6","#d69e14","#ff1e1e","#7d5a62","#1ec8c8","#e8701a","#ff2a00","#d4a000","#39d22a","#808080","#f25c5c","#2e75d0","#40a080","#c08ae6","#d6a014","#7d5a50","#e07a30","#e8a040","#ff1e1e","#6aa8e0","#8ac034","#ff2020","#1a2a8a","#22dd22","#f07a30","#f0c040","#50e080","#20c040","#30d060","#3a7ac8","#12289a","#e83010","#e07a20","#f05a20","#30e040","#30e040","#40b8c8","#4088d0","#f07a40","#e8c030","#50e080","#20c040","#30c860","#3070c8","#12249a","#f02010","#e07a20","#f09040","#40d868","#22c020","#40b8d0","#4080c8","#10208a"]}}
    }}
  ]}
 ],
 "resolve": {"scale": {"x": "independent", "y": "independent"}, "axis": {"x": "independent", "y": "independent"}}
},
{
 "width": 316, "height": 249,
 "layer": [
  {"layer": [
   {"data": {"values": [{}]}, "mark": {"type": "text", "text": ""},
    "encoding": {
     "x": {"datum": 400, "type": "quantitative", "scale": {"domain": [380, 600], "nice": false, "zero": false}, "axis": {"orient": "bottom", "values": [400,425,450,475,500,525,550,575,600], "labels": false, "domain": false, "tickSize": 3, "title": null}},
     "y": {"datum": 0, "type": "quantitative", "scale": {"domain": [0, 921], "nice": false, "zero": false}, "axis": {"orient": "left", "values": [0,100,200,300,400,500,600,700,800,900], "labels": false, "domain": false, "tickSize": 3, "title": null}}
    }},
   {"data": {"values": [{}]}, "mark": {"type": "text", "text": "(B)", "align": "left", "baseline": "middle", "fontSize": 12, "fontWeight": "bold", "color": "black"}, "encoding": {"x": {"datum": 381}, "y": {"datum": 872}}},
   {"data": {"values": [{}]}, "mark": {"type": "text", "text": "Cu(II)", "align": "center", "baseline": "middle", "fontSize": 12, "fontWeight": "bold", "color": "black"}, "encoding": {"x": {"datum": 457}, "y": {"datum": 787}}},
   {"data": {"values": [{}]}, "mark": {"type": "rule", "strokeWidth": 1.3, "color": "#222"}, "encoding": {"x": {"datum": 457}, "y": {"datum": 616}, "y2": {"datum": 752}}},
   {"data": {"values": [{}]}, "mark": {"type": "point", "shape": "triangle-up", "filled": true, "size": 24, "color": "#222", "opacity": 1}, "encoding": {"x": {"datum": 457}, "y": {"datum": 756}}}
  ]},
  {"data": {"name": "b"}, "mark": {"type": "line", "strokeWidth": 1.4, "interpolate": "monotone"},
   "encoding": {
    "x": {"field": "w", "type": "quantitative", "scale": {"domain": [380, 600], "nice": false, "zero": false},
      "axis": {"orient": "bottom", "title": "Wavelength (nm)", "labelOverlap": false, "values": [400,450,500,550,600], "tickSize": 5, "labelFontSize": 12.5, "titleFontSize": 12.5, "labelPadding": 2, "titlePadding": 2}},
    "y": {"field": "v", "type": "quantitative", "scale": {"domain": [0, 921], "nice": false},
      "axis": {"orient": "left", "title": "Fluorescence Intensity", "labelOverlap": false, "titleFontWeight": "normal", "values": [0,200,400,600,800], "tickSize": 5, "labelFontSize": 12.5, "titleFontSize": 14.5, "labelPadding": 2, "titlePadding": 6}},
    "color": {"field": "c", "type": "nominal", "legend": null, "scale": {"domain": ["a01","a02","a03","a04","a05","a06","a07","a08","a09","a10","a11","a12","a13","a14","b01","b02","b03","b04","b05","b06","b07","b08","b09","b10","b11","b12","b13","b14","b15","pa01","pa02","pa03","pa04","pa05","pa06","pa07","pa08","pa09","pa10","pa11","pa12","pa13","pa14","pb01","pb02","pb03","pb04","pb05","pb06","pb07","pb08","pb09","pb10","pb11","pb12","pb13","pb14","pb15"], "range": ["#808080","#f25c5c","#2e75d0","#3a9a55","#ff1414","#b57ee6","#d69e14","#ff1e1e","#7d5a62","#1ec8c8","#e8701a","#ff2a00","#d4a000","#39d22a","#808080","#f25c5c","#2e75d0","#40a080","#c08ae6","#d6a014","#7d5a50","#e07a30","#e8a040","#ff1e1e","#6aa8e0","#8ac034","#ff2020","#1a2a8a","#22dd22","#f07a30","#f0c040","#50e080","#20c040","#30d060","#3a7ac8","#12289a","#e83010","#e07a20","#f05a20","#30e040","#30e040","#40b8c8","#4088d0","#f07a40","#e8c030","#50e080","#20c040","#30c860","#3070c8","#12249a","#f02010","#e07a20","#f09040","#40d868","#22c020","#40b8d0","#4080c8","#10208a"]}}
   }},
  {"layer": [
   {"data": {"values": [{}]}, "mark": {"type": "rect", "fillOpacity": 0, "stroke": "#555", "strokeWidth": 1}, "encoding": {"x": {"datum": 0, "type": "quantitative"}, "x2": {"datum": 17.9}, "y": {"datum": 1, "type": "quantitative"}, "y2": {"datum": 2.5}}},
   {"data": {"name": "bi"}, "mark": {"type": "point", "filled": true, "size": 18, "opacity": 1},
    "encoding": {
     "x": {"field": "x", "type": "quantitative", "scale": {"domain": [0, 17.9], "range": [163.6, 314.3], "nice": false, "zero": false},
       "axis": {"orient": "bottom", "offset": -133.3, "title": "[Cu(II)] (μM)", "values": [0,5,10,15], "domain": false, "tickSize": 3, "labelFontSize": 7, "titleFontSize": 9, "labelPadding": 1, "titlePadding": 2, "labelColor": "#333"}},
     "y": {"field": "y", "type": "quantitative", "scale": {"domain": [1, 2.5], "range": [115.7, 10], "nice": false, "zero": false},
       "axis": {"orient": "left", "offset": -163.6, "title": "I/Iₒ", "labelOverlap": false, "values": [1,1.25,1.5,1.75,2,2.25,2.5], "format": ".1f", "domain": false, "tickSize": 3, "labelFontSize": 7, "titleFontSize": 12, "labelPadding": 1, "titlePadding": 3, "labelColor": "#333"}},
     "color": {"field": "p", "type": "nominal", "legend": null, "scale": {"domain": ["a01","a02","a03","a04","a05","a06","a07","a08","a09","a10","a11","a12","a13","a14","b01","b02","b03","b04","b05","b06","b07","b08","b09","b10","b11","b12","b13","b14","b15","pa01","pa02","pa03","pa04","pa05","pa06","pa07","pa08","pa09","pa10","pa11","pa12","pa13","pa14","pb01","pb02","pb03","pb04","pb05","pb06","pb07","pb08","pb09","pb10","pb11","pb12","pb13","pb14","pb15"], "range": ["#808080","#f25c5c","#2e75d0","#3a9a55","#ff1414","#b57ee6","#d69e14","#ff1e1e","#7d5a62","#1ec8c8","#e8701a","#ff2a00","#d4a000","#39d22a","#808080","#f25c5c","#2e75d0","#40a080","#c08ae6","#d6a014","#7d5a50","#e07a30","#e8a040","#ff1e1e","#6aa8e0","#8ac034","#ff2020","#1a2a8a","#22dd22","#f07a30","#f0c040","#50e080","#20c040","#30d060","#3a7ac8","#12289a","#e83010","#e07a20","#f05a20","#30e040","#30e040","#40b8c8","#4088d0","#f07a40","#e8c030","#50e080","#20c040","#30c860","#3070c8","#12249a","#f02010","#e07a20","#f09040","#40d868","#22c020","#40b8d0","#4080c8","#10208a"]}}
    }}
  ]}
 ],
 "resolve": {"scale": {"x": "independent", "y": "independent"}, "axis": {"x": "independent", "y": "independent"}}
}
]
}
